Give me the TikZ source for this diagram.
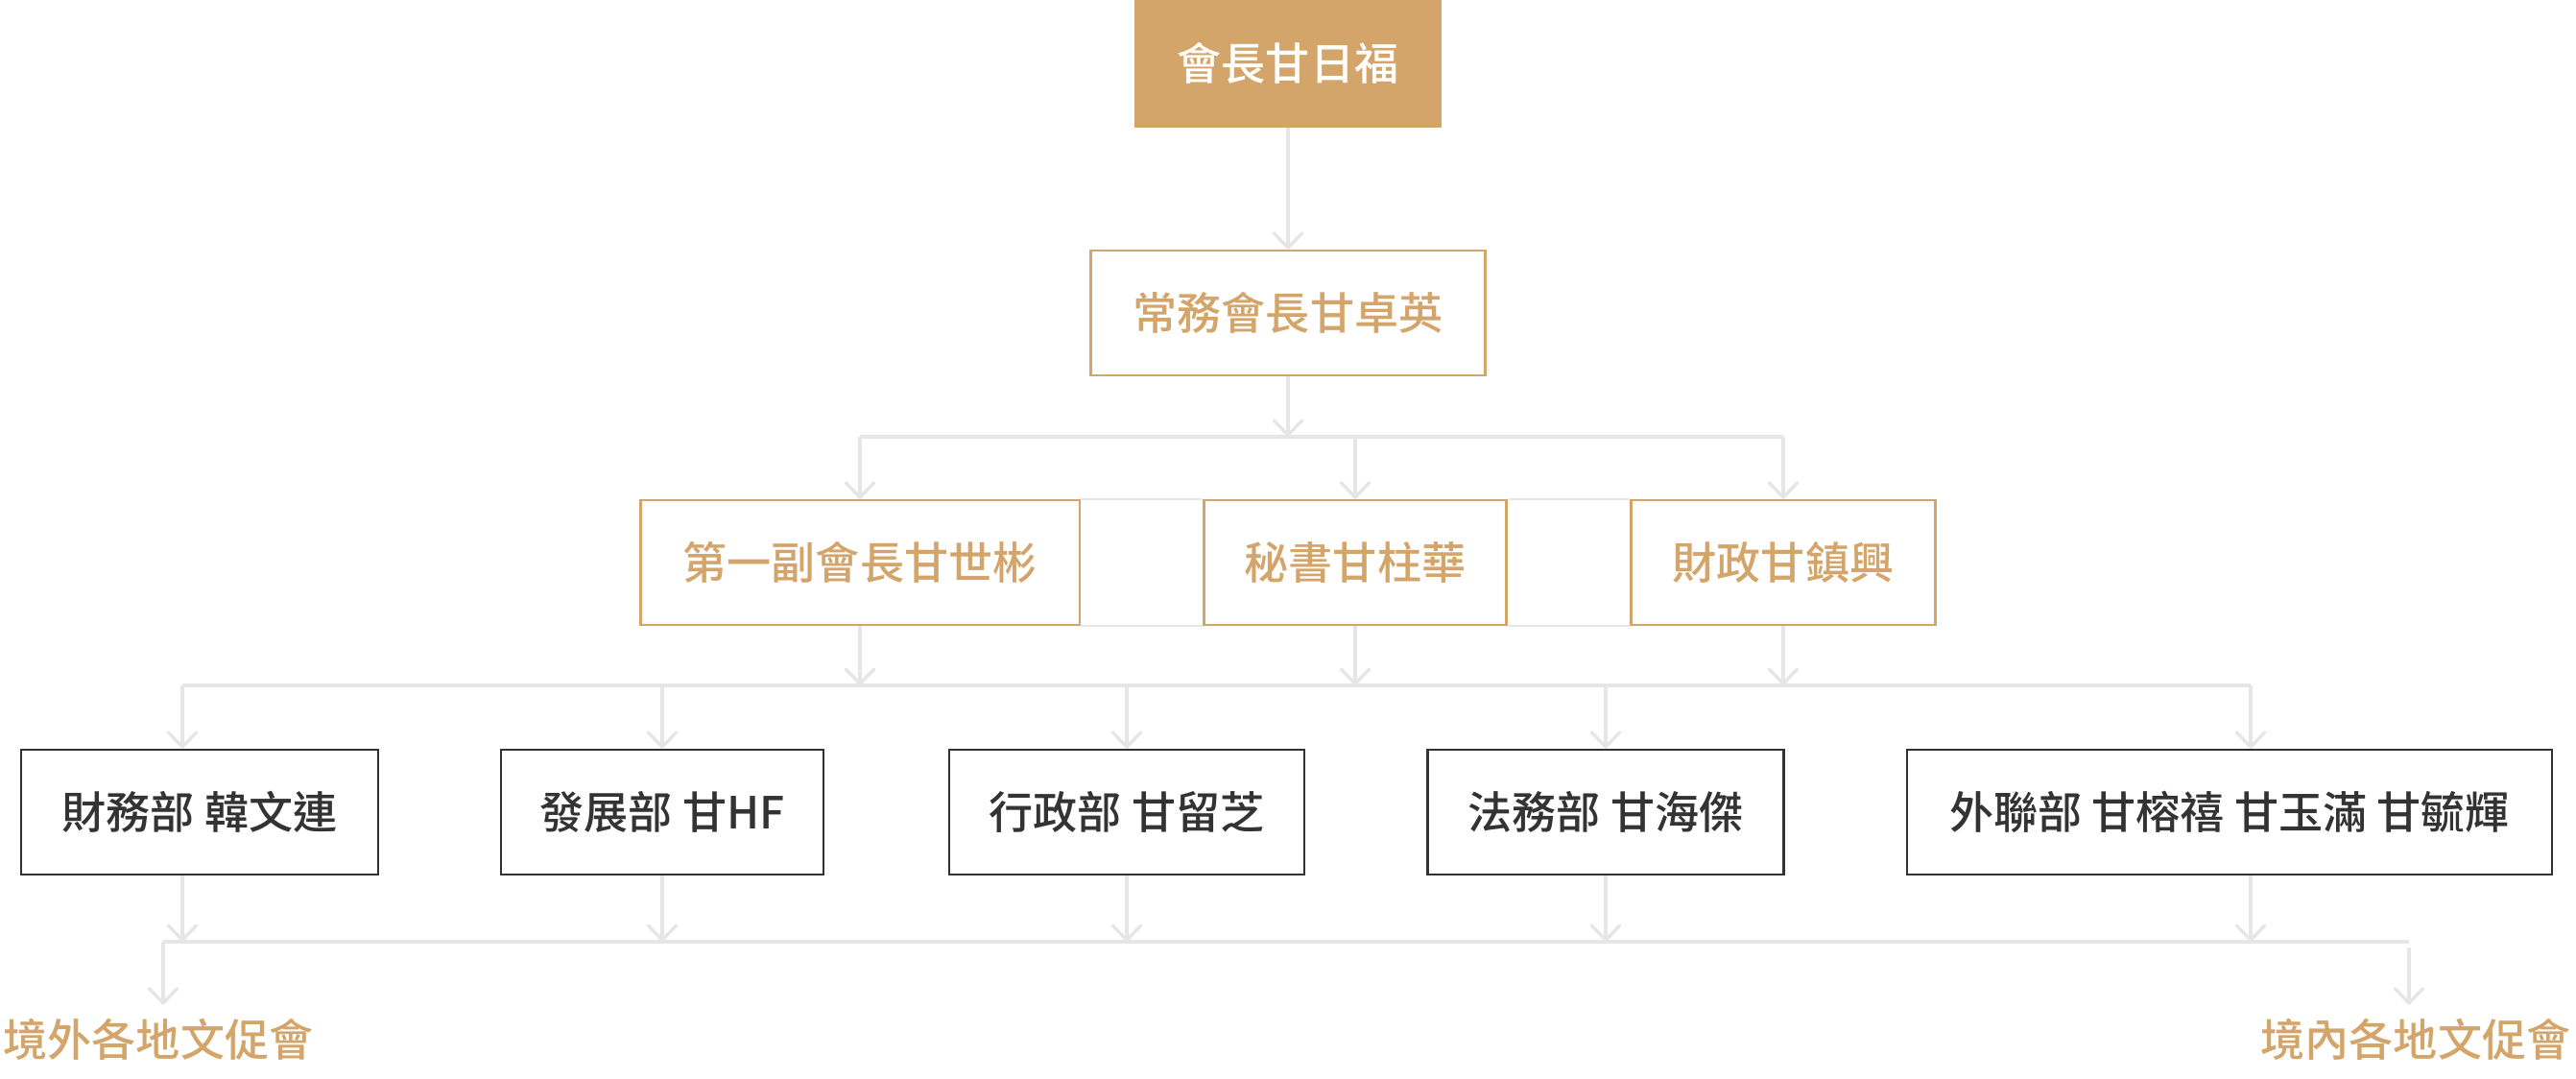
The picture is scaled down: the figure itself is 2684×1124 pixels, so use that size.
\documentclass[tikz,border=0pt]{standalone}
\usepackage{fontspec}
\setmainfont{Noto Sans CJK TC}[UprightFont=* Medium]
\usetikzlibrary{arrows.meta}
\definecolor{gold}{RGB}{211,165,106}
\definecolor{ink}{RGB}{51,51,51}
\definecolor{wire}{RGB}{230,230,230}
\tikzset{
	label font/.style = {font=\fontsize{13.1pt}{15pt}\selectfont},
	box/.style = {draw, line width=0.65pt, minimum height=1.3cm, inner sep=0pt, label font},
	chief/.style = {box, draw=gold, fill=gold, text=white},
	officer/.style = {box, draw=gold, text=gold},
	dept/.style = {box, draw=ink, text=ink},
	branch/.style = {inner xsep=0pt, inner ysep=0.14cm, text=gold, label font},
	bar/.style = {draw=wire, line width=1pt},
	seam/.style = {draw=wire, line width=0.55pt},
	link/.style = {bar, -{Straight Barb[round, length=4.3pt, width=8.3pt]}}
}
\begin{document}
\begin{tikzpicture}[x = 0.01cm, y = -0.01cm]
	\useasboundingbox (0, 0) rectangle (2684, 1124);
	% top
	\node[chief, minimum width=3.18cm, minimum height=1.32cm] (president) at (1342, 66) {會長甘日福};
	\node[officer, minimum width=4.11cm] (standing) at (1342, 326) {常務會長甘卓英};
	% officers
	\node[officer, minimum width=4.57cm] (vice) at (896, 586) {第一副會長甘世彬};
	\node[officer, minimum width=3.15cm] (secretary) at (1412, 586) {秘書甘柱華};
	\node[officer, minimum width=3.17cm] (treasurer) at (1858, 586) {財政甘鎮興};
	% departments
	\node[dept, minimum width=3.72cm] (finance) at (208, 846) {財務部 韓文連};
	\node[dept, minimum width=3.36cm] (develop) at (690, 846) {發展部 甘HF};
	\node[dept, minimum width=3.70cm] (admin) at (1174, 846) {行政部 甘留芝};
	\node[dept, minimum width=3.71cm] (legal) at (1673, 846) {法務部 甘海傑};
	\node[dept, minimum width=6.71cm] (liaison) at (2323, 846) {外聯部 甘榕禧 甘玉滿 甘毓輝};
	% branches
	\node[branch] (overseas) at (165, 1083) {境外各地文促會};
	\node[branch] (local) at (2517, 1083) {境內各地文促會};
	% bar heights
	\coordinate (j1) at (0, 455);
	\coordinate (j2) at (0, 714);
	\coordinate (j3) at (0, 981);
	\coordinate (j3l) at (170, 981);
	\coordinate (j3r) at (2510, 981);
	\coordinate (fin) at ([xshift=-0.18cm]finance.south);
	\coordinate (lia) at ([xshift=0.22cm]liaison.south);
	% seams between officers
	\draw[seam] (vice.north east) -- (secretary.north west);
	\draw[seam] (vice.south east) -- (secretary.south west);
	\draw[seam] (secretary.north east) -- (treasurer.north west);
	\draw[seam] (secretary.south east) -- (treasurer.south west);
	% first level
	\draw[link] (president) -- (standing);
	\draw[link] (standing) -- (standing |- j1);
	\draw[bar] (vice |- j1) -- (treasurer |- j1);
	\draw[link] (vice |- j1) -- (vice);
	\draw[link] (secretary |- j1) -- (secretary);
	\draw[link] (treasurer |- j1) -- (treasurer);
	% second level
	\draw[bar] (fin |- j2) -- (lia |- j2);
	\draw[link] (vice) -- (vice |- j2);
	\draw[link] (secretary) -- (secretary |- j2);
	\draw[link] (treasurer) -- (treasurer |- j2);
	\draw[link] (fin |- j2) -- (fin |- finance.north);
	\draw[link] (develop |- j2) -- (develop);
	\draw[link] (admin |- j2) -- (admin);
	\draw[link] (legal |- j2) -- (legal);
	\draw[link] (lia |- j2) -- (lia |- liaison.north);
	% third level
	\draw[bar] (j3l) -- (j3r);
	\draw[link] (fin) -- (fin |- j3);
	\draw[link] (develop) -- (develop |- j3);
	\draw[link] (admin) -- (admin |- j3);
	\draw[link] (legal) -- (legal |- j3);
	\draw[link] (lia) -- (lia |- j3);
	\draw[link] (j3l) -- (j3l |- overseas.north);
	\draw[link] ([yshift=-0.06cm]j3r) -- (j3r |- local.north);
\end{tikzpicture}
\end{document}
